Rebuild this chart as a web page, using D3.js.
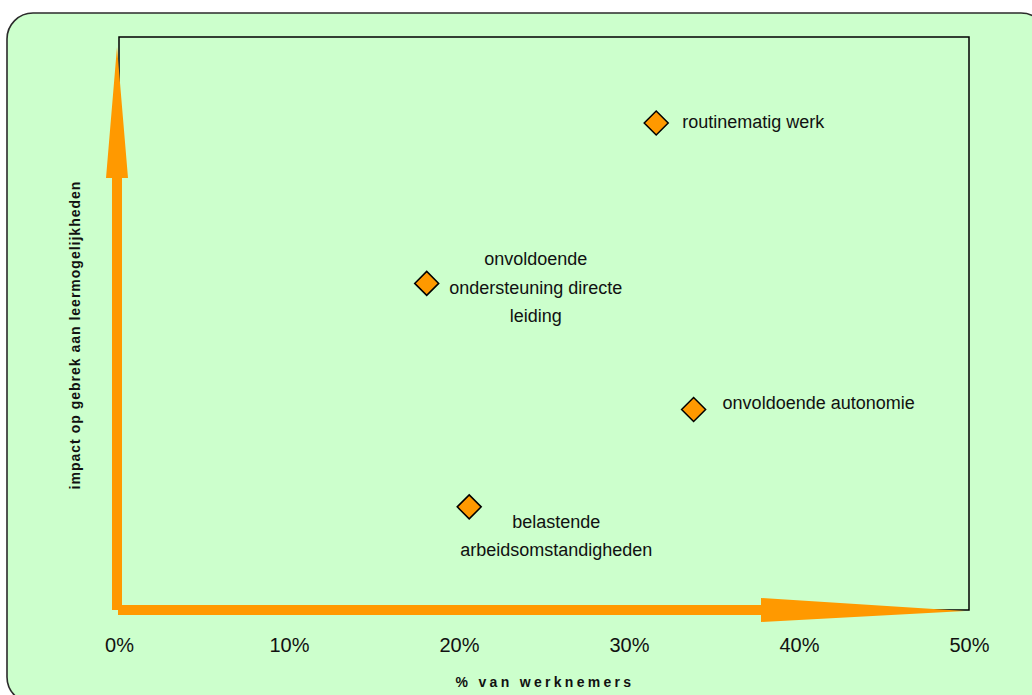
<!DOCTYPE html>
<html>
<head>
<meta charset="utf-8">
<script src="https://cdn.jsdelivr.net/npm/d3@7"></script>
<style>
  html, body { margin: 0; padding: 0; background: #ffffff; }
  svg { display: block; }
  text { font-family: "Liberation Sans", Arial, sans-serif; fill: #111; }
</style>
</head>
<body>
<svg id="chart" width="1032" height="695"></svg>
<script>
// Learning obstacles: share of employees (x) vs. impact on lack of learning opportunities (y)
const labels = [
  ["routinematig werk"],
  ["onvoldoende", "ondersteuning directe", "leiding"],
  ["onvoldoende autonomie"],
  ["belastende", "arbeidsomstandigheden"]
];
const shareEmployees = [31.6, 18.1, 33.8, 20.6];   // % van werknemers
const impactScore    = [0.85, 0.57, 0.35, 0.18];   // relative impact (no scale shown)
const xTicks = [0, 10, 20, 30, 40, 50];

// label placement relative to each marker: anchor, dx, dy of the first baseline
const labelPlacement = [
  { anchor: "start",  dx: 26,  dy: 5 },
  { anchor: "middle", dx: 109, dy: -18 },
  { anchor: "start",  dx: 29,  dy: 0 },
  { anchor: "middle", dx: 87,  dy: 21 }
];

const svg = d3.select("#chart");
const plot = { left: 119, right: 969, top: 37, bottom: 610 };

const x = d3.scaleLinear().domain([0, 50]).range([plot.left, plot.right]);
const y = d3.scaleLinear().domain([0, 1]).range([plot.bottom, plot.top]);

const orange = "#FF9900";

// chart area with rounded border
svg.append("rect")
  .attr("x", 7).attr("y", 13)
  .attr("width", 1040).attr("height", 690)
  .attr("rx", 26).attr("ry", 26)
  .attr("fill", "#CCFFCC")
  .attr("stroke", "#2b2b2b").attr("stroke-width", 1.6);

// plot frame
svg.append("rect")
  .attr("x", x(0)).attr("y", y(1))
  .attr("width", x(50) - x(0)).attr("height", y(0) - y(1))
  .attr("fill", "none")
  .attr("stroke", "#000").attr("stroke-width", 1.5);

// x axis tick labels (no axis line; the arrow acts as the axis)
const xAxis = d3.axisBottom(x)
  .tickValues(xTicks)
  .tickFormat(d => d + "%")
  .tickSize(0)
  .tickPadding(0);
const gx = svg.append("g")
  .attr("transform", `translate(0, ${y(0) + 27})`)
  .call(xAxis);
gx.select(".domain").remove();
gx.selectAll("text")
  .attr("font-size", 20)
  .attr("font-family", "Liberation Sans, Arial, sans-serif")
  .attr("fill", "#111")
  .attr("dy", "0.75em");

// orange arrows forming the axes
const x0 = x(0), y0 = y(0);
const shaft = 10;
// vertical arrow
svg.append("path")
  .attr("d", d3.line()([
    [x0 - 7, y0], [x0 + 3, y0],
    [x0 + 3, 178], [x0 + 9, 178],
    [x0 - 2, 47],
    [x0 - 13, 178], [x0 - 7, 178]
  ]) + "Z")
  .attr("fill", orange);
// horizontal arrow
svg.append("path")
  .attr("d", d3.line()([
    [x0 - 1, y0 - shaft / 2], [761, y0 - shaft / 2],
    [761, y0 - 12], [x(50) - 4, y0 + 1],
    [761, y0 + 12], [761, y0 + shaft / 2],
    [x0 - 1, y0 + shaft / 2]
  ]) + "Z")
  .attr("fill", orange);

// markers
const diamond = "M0,-12L12,0L0,12L-12,0Z";
const pts = shareEmployees.map((v, i) => ({ x: v, y: impactScore[i], label: labels[i], place: labelPlacement[i] }));

svg.append("g").selectAll("path")
  .data(pts)
  .join("path")
  .attr("d", diamond)
  .attr("transform", d => `translate(${x(d.x)}, ${y(d.y)})`)
  .attr("fill", orange)
  .attr("stroke", "#000")
  .attr("stroke-width", 1.5);

// data labels
const lab = svg.append("g").selectAll("text")
  .data(pts)
  .join("text")
  .attr("font-size", 18)
  .attr("text-anchor", d => d.place.anchor)
  .attr("transform", d => `translate(${x(d.x) + d.place.dx}, ${y(d.y) + d.place.dy})`);
lab.selectAll("tspan")
  .data(d => d.label)
  .join("tspan")
  .attr("x", 0)
  .attr("y", (t, j) => j * 28.5)
  .text(t => t);

// axis titles
svg.append("text")
  .attr("x", (x(0) + x(50)) / 2 + 1)
  .attr("y", 687)
  .attr("text-anchor", "middle")
  .attr("font-size", 14)
  .attr("font-weight", "bold")
  .attr("letter-spacing", 3.3)
  .text("% van werknemers");

svg.append("text")
  .attr("transform", `translate(80, ${335}) rotate(-90)`)
  .attr("text-anchor", "middle")
  .attr("font-size", 14)
  .attr("font-weight", "bold")
  .attr("letter-spacing", 1)
  .text("impact op gebrek aan leermogelijkheden");
</script>
</body>
</html>
